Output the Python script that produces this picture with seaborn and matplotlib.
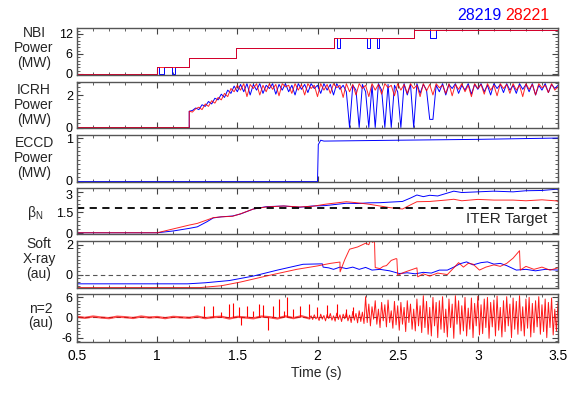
import numpy as np
import pandas as pd
import seaborn as sns
import matplotlib.pyplot as plt
from matplotlib.ticker import MultipleLocator, FormatStrFormatter
from matplotlib.transforms import ScaledTranslation

BLUE = "#0000ff"
RED = "#ff0000"

# ---- NBI power (MW), step traces
nbi_t_28219 = [0.5, 1.0, 1.01, 1.04, 1.09, 1.11, 1.2, 1.49, 2.1, 2.12, 2.14, 2.31, 2.33, 2.37, 2.385, 2.6, 2.7, 2.74, 3.5]
nbi_p_28219 = [0, 2.0, 0, 2.0, 0, 2.0, 4.8, 7.9, 10.8, 7.9, 10.8, 7.9, 10.8, 7.9, 10.8, 13.3, 10.8, 13.3, 13.3]
nbi_t_28221 = [0.5, 1.0, 1.2, 1.49, 2.1, 2.6, 3.5]
nbi_p_28221 = [0, 2.0, 4.8, 7.9, 10.8, 13.3, 13.3]

# ---- ICRH power (MW), sampled every 0.02 s from 1.20 to 3.50
icrh_start, icrh_stop = 1.2, 3.5
icrh_28219 = [1.0, 1.05, 1.2, 1.1, 1.4, 1.3, 1.6, 1.45, 1.8, 1.7, 2.05, 1.85, 2.3, 2.1, 2.55, 2.2,
              2.65, 2.2, 2.7, 2.0, 2.65, 2.3, 2.7, 2.1, 2.6, 2.4,
              2.7, 2.05, 2.65, 2.3, 2.7, 2.2, 2.6, 2.0, 2.7, 2.35,
              2.65, 2.15, 2.7, 2.4, 2.6, 2.1, 2.7, 2.3, 2.65, 2.0,
              2.7, 2.35, 2.6, 2.2, 0.0, 2.6, 2.3, 0.0, 2.65, 2.2,
              0.0, 2.6, 0.0, 2.7, 2.3, 0.0, 2.65, 0.0, 2.6, 2.2,
              0.0, 2.7, 2.0, 2.65, 0.0, 2.7, 2.1, 2.65, 2.3, 0.5,
              0.5, 2.6, 2.2, 2.7, 2.0, 2.65, 2.4, 2.7, 2.1, 2.6,
              2.3, 2.7, 2.05, 2.65, 2.35, 2.7, 2.2, 2.6, 2.0, 2.7,
              2.4, 2.65, 2.15, 2.7, 2.3, 2.6, 2.1, 2.7, 2.35, 2.65,
              2.2, 2.7, 2.0, 2.6, 2.3, 2.7, 2.15, 2.65, 2.4, 2.6]
icrh_28221 = [1.0, 0.95, 1.15, 1.25, 1.1, 1.45, 1.3, 1.65, 1.5, 1.85, 1.7, 2.1, 1.9, 2.4, 2.2, 2.6,
              2.3, 2.7, 1.9, 2.65, 2.4, 2.7, 2.0, 2.6, 2.2, 2.7,
              2.35, 2.65, 1.95, 2.7, 2.5, 2.6, 2.1, 2.7, 2.3, 2.65,
              2.0, 2.7, 2.4, 2.6, 1.9, 2.7, 2.3, 2.65, 2.1, 2.7,
              2.45, 2.6, 1.85, 2.7, 2.2, 2.65, 2.0, 2.7, 2.4, 2.6,
              1.9, 2.7, 2.3, 2.65, 2.05, 2.7, 2.45, 2.6, 1.95, 2.7,
              2.3, 2.65, 2.1, 2.7, 2.4, 2.6, 1.9, 2.7, 2.25, 2.65,
              2.0, 2.7, 2.45, 2.6, 2.1, 2.7, 1.95, 2.65, 2.35, 2.7,
              2.2, 2.6, 1.9, 2.7, 2.4, 2.65, 2.05, 2.7, 2.3, 2.6,
              1.95, 2.7, 2.4, 2.65, 2.1, 2.7, 2.3, 2.6, 1.9, 2.7,
              2.35, 2.65, 2.0, 2.7, 2.45, 2.6, 2.15, 2.7, 2.3, 2.5]

# ---- ECCD power (MW)
eccd_t_28219 = [0.5, 2.0, 2.005, 2.02, 2.04, 2.5, 3.0, 3.5]
eccd_p_28219 = [0, 0, 0.85, 0.95, 0.93, 0.95, 0.97, 1.0]
eccd_t_28221 = [0.5, 3.5]
eccd_p_28221 = [0, 0]

# ---- beta_N
bn_t_28219 = [0.5, 1.0, 1.1, 1.2, 1.25, 1.31, 1.35, 1.4, 1.47, 1.52, 1.6, 1.68, 1.79, 1.89, 1.97, 2.05,
              2.18, 2.25, 2.32, 2.39, 2.45, 2.53, 2.58, 2.62, 2.66, 2.7, 2.75, 2.85, 2.9, 3.0, 3.1,
              3.22, 3.3, 3.4, 3.49, 3.5]
bn_28219 = [0.02, 0.02, 0.15, 0.34, 0.45, 0.82, 1.1, 1.18, 1.24, 1.39, 1.75, 1.92, 1.97, 1.88, 1.97, 2.0,
            2.17, 2.15, 2.2, 2.21, 2.25, 2.3, 2.55, 2.77, 2.65, 2.75, 2.7, 3.05, 2.95, 3.0, 3.05,
            3.0, 3.08, 3.1, 3.19, 3.15]
bn_t_28221 = [0.5, 1.0, 1.1, 1.2, 1.25, 1.31, 1.35, 1.4, 1.47, 1.52, 1.6, 1.68, 1.79, 1.89, 1.97, 2.05,
              2.18, 2.25, 2.32, 2.39, 2.45, 2.53, 2.58, 2.62, 2.7, 2.8, 2.85, 2.9, 3.0, 3.1, 3.22,
              3.3, 3.4, 3.49, 3.5]
bn_28221 = [0.02, 0.02, 0.3, 0.58, 0.7, 0.95, 1.12, 1.18, 1.22, 1.4, 1.75, 1.9, 1.97, 1.9, 1.95, 2.1,
            2.28, 2.2, 2.1, 1.97, 1.85, 1.75, 2.05, 2.28, 2.3, 2.4, 2.46, 2.35, 2.45, 2.4, 2.4,
            2.35, 2.42, 2.34, 2.3]
iter_target = 1.8

# ---- soft X-ray (au)
sx_t_28219 = [0.5, 1.19, 1.3, 1.45, 1.6, 1.75, 1.91, 2.03, 2.035, 2.07, 2.1, 2.14, 2.18, 2.22, 2.26, 2.3,
              2.34, 2.39, 2.45, 2.51, 2.56, 2.61, 2.66, 2.71, 2.76, 2.81, 2.85, 2.89, 2.93, 2.97, 3.02,
              3.06, 3.1, 3.14, 3.18, 3.24, 3.3, 3.36, 3.42, 3.5]
sx_28219 = [-0.62, -0.62, -0.55, -0.4, -0.1, 0.3, 0.69, 0.72, 0.5, 0.45, 0.35, 0.5, 0.4, 0.5, 0.35, 0.48,
            0.3, 0.35, 0.25, 0.07, 0.12, 0.05, 0.15, 0.1, 0.3, 0.3, 0.5, 0.73, 0.85, 0.65, 0.8,
            0.85, 0.7, 0.75, 0.6, 0.3, 0.35, 0.25, 0.35, 0.3]
sx_t_28221 = [0.5, 1.27, 1.4, 1.52, 1.7, 1.87, 2.0, 2.08, 2.14, 2.141, 2.17, 2.2, 2.25, 2.3, 2.32, 2.33,
              2.345, 2.355, 2.36, 2.39, 2.41, 2.43, 2.46, 2.49, 2.495, 2.5, 2.54, 2.58, 2.62, 2.625,
              2.66, 2.7, 2.75, 2.81, 2.85, 2.88, 2.91, 2.94, 2.97, 3.01, 3.05, 3.1, 3.14, 3.18, 3.22,
              3.26, 3.265, 3.3, 3.35, 3.4, 3.45, 3.5]
sx_28221 = [-0.87, -0.87, -0.75, -0.5, -0.05, 0.35, 0.58, 0.75, 0.84, 0.18, 1.0, 1.7, 1.85, 2.1, 2.0, 2.3,
            2.15, 2.39, 0.47, 0.4, 0.55, 0.6, 0.95, 1.07, 1.05, -0.04, 0.15, 0.3, 0.45, -0.15,
            0.05, -0.1, 0.1, 0.0, 0.45, 0.8, 0.5, 0.75, 0.7, 0.3, 0.5, 0.65, 0.55, 0.75, 1.1,
            1.6, 0.3, 0.55, 0.35, 0.5, 0.3, 0.45]

# ---- n=2 amplitude (au), shot 28221
n2_quiet = [0.2, -0.1, 0.3, 0.0, -0.2, 0.25, 0.1, -0.15, 0.3, 0.0, 0.15, -0.2, 0.2, 0.05, -0.1,
            0.3, -0.2, 0.1, 0.25, -0.3, 0.2, 0.0, -0.25, 0.3, 0.1, -0.3, 0.35, -0.2, 0.4, -0.3]   # 0.50..1.95
n2_grow = [0.5, -0.6, 0.8, -0.4, 0.3, -0.9, 1.0, -0.5, 0.6, -1.0, 0.9, -0.3, 1.2, -0.8, 0.5, -1.1, 1.3,
           -0.6, 0.8, -1.2, 1.0, -0.4, 1.5, -1.0, 0.7, -1.5, 1.8, -0.8, 1.2, -1.6, 2.0, -1.2, 1.6, -1.8]  # 1.96..2.29
n2_active = [6.2, -1.5, 4.0, -2.5, 3.2, -0.5, 5.0, -2.0, 2.5, -3.0, 4.5, -1.0, 3.8, -2.8, 5.2, -1.5, 2.0,
             -3.2, 4.8, -2.2, 3.5,
             -3.8, 4.5, -2.0, 3.0, -4.2, 5.0, -1.5, 4.0, -3.5, 2.5, -4.0, 5.5, -2.5, 3.5, -4.5, 6.5,
             -3.0, 4.8, -5.0, 3.0,
             -5.5, 6.0, -2.5, 4.5, -6.0, 5.0, -3.5, 6.2, -4.5, 2.5,
             -5.8, 5.5, -3.0, 4.0, -6.2, 6.5, -2.0, 5.0, -5.0, 3.5,
             -4.0, 6.0, -5.5, 2.8, -3.5, 5.8, -6.0, 4.2, -2.5, 6.3,
             -5.2, 3.8, -4.8, 5.5, -3.0, 6.0, -6.2, 4.5, -2.8, 5.2,
             -5.5, 6.4, -3.8, 3.0, -5.8, 5.0, -4.2, 6.2, -2.5, 4.0,
             -6.0, 5.8, -3.5, 4.8, -5.0, 6.5, -4.0, 3.2, -5.5, 5.5,
             -3.2, 6.0, -5.8, 4.2, -4.5, 5.0, -2.8, 6.2, -5.0, 3.8,
             -4.2, 5.5, -6.0, 4.5, -3.0, 5.8, -5.2, 2.5, -4.0, 4.5]  # 2.30..3.50
n2_spike_t = [1.292, 1.35, 1.40, 1.45, 1.475, 1.51, 1.523, 1.559, 1.60, 1.637, 1.658, 1.69, 1.72,
              1.762, 1.79, 1.812, 1.85, 1.891, 1.95, 1.995, 2.058, 2.12, 2.18, 2.22]
n2_spike_h = [3.5, 3.5, 1.5, 4.0, 4.2, 3.2, -2.3, 3.5, 1.8, 4.0, 3.8, -3.8, 3.5,
              5.5, 2.0, 6.2, 2.5, 3.5, 4.0, 3.0, 3.8, 4.0, 2.5, 3.0]

sns.set_theme(style="ticks")
plt.rcParams["font.family"] = ["Liberation Sans", "DejaVu Sans"]
plt.rcParams["mathtext.fontset"] = "custom"
plt.rcParams["mathtext.rm"] = "Liberation Sans"

W, H = 581, 393
fig = plt.figure(figsize=(W / 100, H / 100), dpi=100)
boxes = [(28, 75), (82, 128), (135, 182), (188, 234), (241, 288), (294, 342)]
axes = [fig.add_axes([77 / W, 1 - b / H, 481 / W, (b - t) / H]) for t, b in boxes]

def trace(ax, t, v, color, lw=0.7, **kw):
    df = pd.DataFrame({"t": t, "v": v})
    sns.lineplot(data=df, x="t", y="v", ax=ax, color=color, lw=lw,
                 estimator=None, sort=False, **kw)

ax = axes[0]
trace(ax, nbi_t_28219, nbi_p_28219, BLUE, drawstyle="steps-post")
trace(ax, nbi_t_28221, nbi_p_28221, RED, drawstyle="steps-post", alpha=0.85)
ax.set_ylim(-0.3, 13.8)
ax.set_yticks([0, 6, 12])
ax.yaxis.set_minor_locator(MultipleLocator(1))

ax = axes[1]
icrh_t = np.linspace(icrh_start, icrh_stop, len(icrh_28219))
trace(ax, np.r_[0.5, icrh_start, icrh_t], np.r_[0, 0, icrh_28219], BLUE)
trace(ax, np.r_[0.5, icrh_start, icrh_t], np.r_[0, 0, icrh_28221], RED, alpha=0.85)
ax.set_ylim(-0.03, 2.8)
ax.set_yticks([0, 2])
ax.yaxis.set_minor_locator(MultipleLocator(0.25))

ax = axes[2]
trace(ax, eccd_t_28219, eccd_p_28219, BLUE)
trace(ax, eccd_t_28221, eccd_p_28221, RED)
ax.set_ylim(-0.01, 1.07)
ax.set_yticks([0, 1])
ax.yaxis.set_minor_locator(MultipleLocator(0.1))

ax = axes[3]
trace(ax, bn_t_28219, bn_28219, BLUE)
trace(ax, bn_t_28221, bn_28221, RED, alpha=0.85)
ax.axhline(iter_target, color="black", lw=1.3, dashes=(4, 3))
ax.text(3.43, 1.05, "ITER Target", ha="right", va="center", fontsize=11)
ax.set_ylim(-0.07, 3.28)
ax.set_yticks([0, 1.5, 3])
ax.yaxis.set_minor_locator(MultipleLocator(0.3))

ax = axes[4]
ax.axhline(0, color="#555555", lw=0.8, dashes=(4, 3))
trace(ax, sx_t_28219, sx_28219, BLUE)
trace(ax, sx_t_28221, sx_28221, RED, alpha=0.85)
ax.set_ylim(-0.9, 2.25)
ax.set_yticks([0, 2])
ax.yaxis.set_minor_locator(MultipleLocator(0.25))

ax = axes[5]
ax.axhline(0, color="#555555", lw=0.8, dashes=(4, 3))
trace(ax, np.linspace(0.5, 1.95, len(n2_quiet)), n2_quiet, RED, lw=1.6, alpha=0.7)
n2_t = np.r_[1.95, np.linspace(1.96, 2.29, len(n2_grow)),
             np.linspace(2.30, 3.50, len(n2_active))]
trace(ax, n2_t, np.r_[n2_quiet[-1], n2_grow, n2_active], RED, alpha=0.9)
ax.vlines(n2_spike_t, 0, n2_spike_h, colors=RED, lw=0.8)
ax.set_ylim(-7.3, 7.0)
ax.set_yticks([-6, 0, 6])
ax.yaxis.set_minor_locator(MultipleLocator(1))

for i, ax in enumerate(axes):
    ax.set_xlim(0.5, 3.5)
    ax.xaxis.set_major_locator(MultipleLocator(0.5))
    ax.xaxis.set_minor_locator(MultipleLocator(0.1))
    ax.xaxis.set_major_formatter(FormatStrFormatter("%g"))
    ax.yaxis.set_major_formatter(FormatStrFormatter("%g"))
    ax.set_xlabel("")
    ax.set_ylabel("")
    ax.tick_params(which="both", direction="in", top=True, right=True,
                   colors="#444444", labelcolor="black", labelsize=9, pad=3)
    ax.tick_params(which="major", length=4, width=0.8)
    ax.tick_params(which="minor", length=2, width=0.6)
    for s in ax.spines.values():
        s.set_color("#555555")
        s.set_linewidth(1.0)
    if i < len(axes) - 1:
        ax.tick_params(labelbottom=False)
    else:
        ax.tick_params(axis="x", pad=5, labelsize=10)

# nudge the two crowded tick labels between ECCD and beta_N apart a little
fig.canvas.draw()
for lab in axes[3].get_yticklabels():
    if lab.get_text() == "3":
        lab.set_transform(lab.get_transform() + ScaledTranslation(0, -2 / 72, fig.dpi_scale_trans))
for lab in axes[2].get_yticklabels():
    if lab.get_text() == "0":
        lab.set_transform(lab.get_transform() + ScaledTranslation(0, 1 / 72, fig.dpi_scale_trans))

labels = [("NBI\nPower\n(MW)", 34, 48), ("ICRH\nPower\n(MW)", 34, 105),
          ("ECCD\nPower\n(MW)", 34, 158), (r"β$_\mathregular{N}$", 35, 213),
          ("Soft\nX-ray\n(au)", 39, 259), ("n=2\n(au)", 41, 316)]
for txt, x, y in labels:
    fig.text(x / W, 1 - y / H, txt, ha="center", va="center", fontsize=10,
             linespacing=1.05, multialignment="center")

fig.text(316 / W, 1 - 373 / H, "Time (s)", ha="center", va="center", fontsize=10)
fig.text(501 / W, 1 - 15 / H, "28219", color=BLUE, ha="right", va="center", fontsize=11.5)
fig.text(549 / W, 1 - 15 / H, "28221", color=RED, ha="right", va="center", fontsize=11.5)

fig.savefig("out.png", dpi=100)
